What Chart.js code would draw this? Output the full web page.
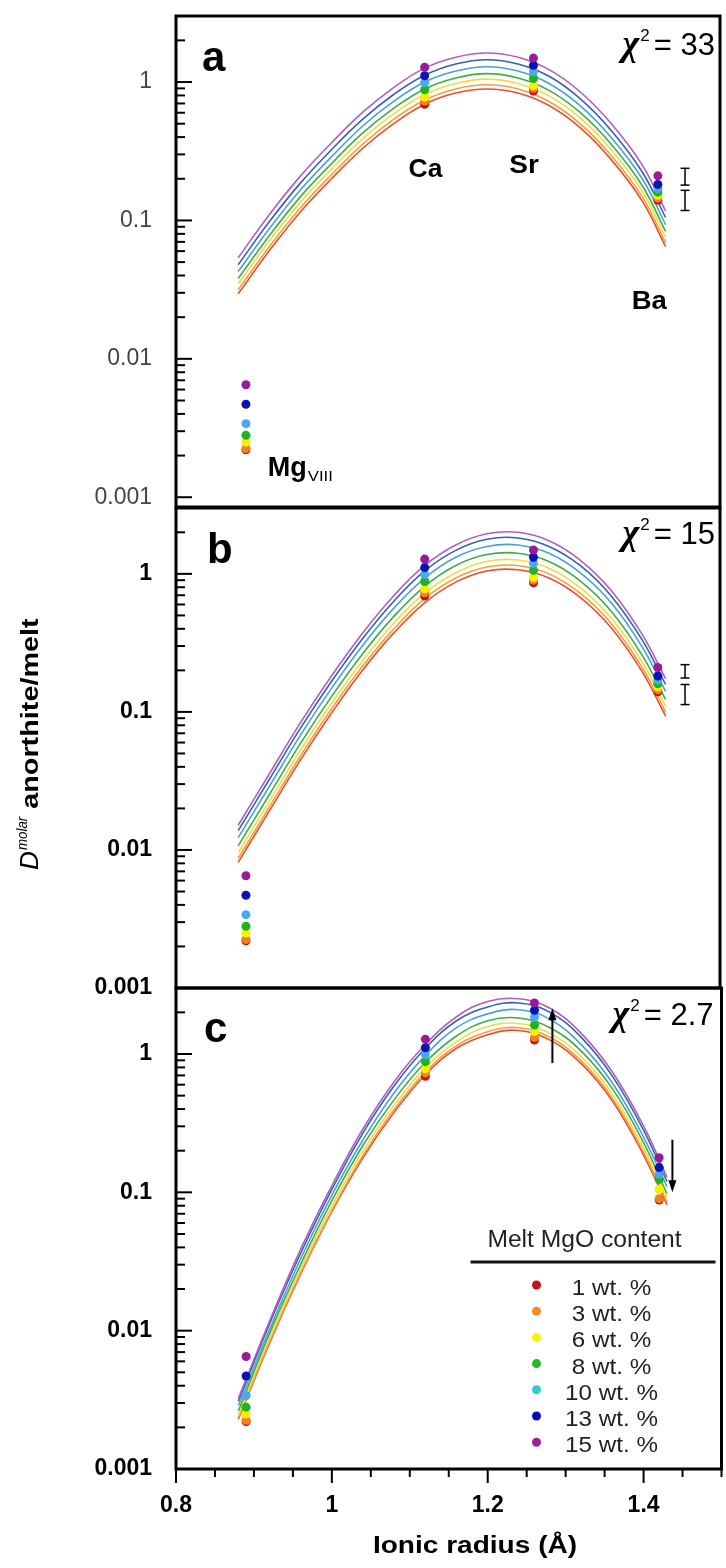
<!DOCTYPE html>
<html><head><meta charset="utf-8">
<script src="https://cdn.jsdelivr.net/npm/chart.js@4.4.1/dist/chart.umd.min.js"></script>
<style>
html,body{margin:0;padding:0;background:#fff;}
body{width:726px;height:1568px;position:relative;overflow:hidden;}
canvas{position:absolute;left:0;}
</style></head><body>
<canvas id="pa" width="726" height="530" style="top:0px"></canvas>
<canvas id="pb" width="726" height="540" style="top:480px"></canvas>
<canvas id="pc" width="726" height="608" style="top:960px"></canvas>
<script>
// ---------------- data ----------------
const mgoLabels = ['1 wt. %','3 wt. %','6 wt. %','8 wt. %','10 wt. %','13 wt. %','15 wt. %'];
const elements  = ['Mg','Ca','Sr','Ba'];
const radii     = [0.89, 1.12, 1.26, 1.42];

// measured D (molar) per MgO content (1,3,6,8,10,13,15 wt.%)
const dMg  = [0.0022, 0.00225, 0.0025, 0.0028, 0.0034, 0.0047, 0.0065];
const dCa  = [0.69, 0.73, 0.78, 0.88, 0.99, 1.11, 1.28];
const dSr  = [0.86, 0.90, 0.94, 1.06, 1.19, 1.32, 1.49];
const dBa  = [0.14, 0.145, 0.152, 0.16, 0.17, 0.182, 0.21];
const dSrC = [1.26, 1.32, 1.45, 1.62, 1.85, 2.07, 2.34];
const dBaC = [0.088, 0.09, 0.105, 0.124, 0.135, 0.151, 0.178];

// fitted lattice-strain curves, read along the radius axis
const fitX = [0.88,0.92,0.96,1.00,1.04,1.08,1.12,1.16,1.20,1.24,1.28,1.32,1.36,1.40,1.43];
const fitA = [
  [0.0295,0.0603,0.115,0.200,0.331,0.501,0.692,0.832,0.891,0.832,0.676,0.468,0.275,0.138,0.0646],
  [0.0316,0.0646,0.123,0.214,0.355,0.537,0.741,0.891,0.955,0.891,0.724,0.501,0.295,0.148,0.0692],
  [0.0347,0.0708,0.135,0.234,0.389,0.589,0.813,0.977,1.05,0.977,0.794,0.550,0.324,0.162,0.0759],
  [0.0380,0.0776,0.148,0.257,0.427,0.646,0.891,1.07,1.15,1.07,0.871,0.603,0.355,0.178,0.0832],
  [0.0427,0.0871,0.166,0.288,0.479,0.724,1.00,1.20,1.29,1.20,0.977,0.676,0.398,0.200,0.0933],
  [0.0479,0.0977,0.186,0.324,0.537,0.813,1.12,1.35,1.45,1.35,1.10,0.759,0.447,0.224,0.105],
  [0.0537,0.110,0.209,0.363,0.603,0.912,1.26,1.51,1.62,1.51,1.23,0.851,0.501,0.251,0.117]
];
const fitB = [
  [0.00813,0.0191,0.0447,0.0977,0.200,0.372,0.617,0.871,1.05,1.07,0.933,0.676,0.407,0.195,0.0933],
  [0.00871,0.0204,0.0479,0.105,0.214,0.398,0.661,0.933,1.12,1.15,1.00,0.724,0.437,0.209,0.100],
  [0.00955,0.0224,0.0525,0.115,0.234,0.437,0.724,1.02,1.23,1.26,1.10,0.794,0.479,0.229,0.110],
  [0.0107,0.0251,0.0589,0.129,0.263,0.490,0.813,1.15,1.38,1.41,1.23,0.891,0.537,0.257,0.123],
  [0.0123,0.0288,0.0676,0.148,0.302,0.562,0.933,1.32,1.58,1.62,1.41,1.02,0.617,0.295,0.141],
  [0.0138,0.0324,0.0759,0.166,0.339,0.631,1.05,1.48,1.78,1.82,1.58,1.15,0.692,0.331,0.158],
  [0.0151,0.0355,0.0832,0.182,0.372,0.692,1.15,1.62,1.95,2.00,1.74,1.26,0.759,0.363,0.174]
];
const fitC = [
  [0.00229,0.00813,0.0257,0.0724,0.178,0.380,0.708,1.10,1.38,1.48,1.26,0.851,0.457,0.186,0.0813],
  [0.00234,0.00832,0.0263,0.0741,0.186,0.398,0.741,1.15,1.45,1.55,1.32,0.891,0.479,0.195,0.0851],
  [0.00245,0.00891,0.0282,0.0794,0.200,0.427,0.794,1.23,1.58,1.66,1.41,0.955,0.513,0.209,0.0912],
  [0.00263,0.00955,0.0302,0.0871,0.219,0.468,0.871,1.35,1.74,1.82,1.55,1.05,0.562,0.229,0.0977],
  [0.00288,0.0102,0.0331,0.0955,0.240,0.525,0.977,1.55,1.95,2.09,1.78,1.17,0.617,0.251,0.110],
  [0.00309,0.0112,0.0363,0.105,0.269,0.589,1.10,1.74,2.19,2.34,2.00,1.32,0.692,0.282,0.120],
  [0.00324,0.0117,0.0389,0.112,0.288,0.631,1.17,1.86,2.40,2.51,2.14,1.41,0.741,0.302,0.129]
];

// uncertainty bars (panels a, b) and shift arrows (panel c)
const errBarX = 1.455;
const errA = [[0.18, 0.238], [0.118, 0.165]];
const errB = [[0.176, 0.22], [0.113, 0.158]];
const arrowX    = [1.283, 1.437];
const arrowFrom = [0.86, 0.24];
const arrowTo   = [2.14, 0.10];

const chiA = '33', chiB = '15', chiC = '2.7';

// axis ticks
const yMajor      = [0.001, 0.01, 0.1, 1];
const yTickLabels = ['0.001', '0.01', '0.1', '1'];
const yMinorSteps = [2, 3, 4, 5, 6, 7, 8, 9];
const xTickValues = [0.8, 1.0, 1.2, 1.4];
const xTickLabels = ['0.8', '1', '1.2', '1.4'];

// ---------------- styles ----------------
const FONT = "'Liberation Sans', Arial, sans-serif";
const lineColors   = ['#e8502e','#f0a040','#efdc44','#3cae48','#4aa0d8','#3462b0','#b45cc4'];
const dotColors    = ['#c81414','#f08220','#f8f000','#1eb41e','#4ca8ec','#0a14b4','#9a1a9a'];
const legendColors = ['#cc1111','#f08a2a','#f5f500','#22bb22','#33cccc','#0a0ab4','#9a2299'];

function sText(ctx, s, x, y, font, align, sx, color) {
  ctx.save();
  ctx.font = font;
  ctx.fillStyle = color || '#000';
  ctx.textAlign = 'left';
  ctx.textBaseline = 'alphabetic';
  const w = ctx.measureText(s).width * sx;
  const x0 = align === 'center' ? x - w / 2 : (align === 'right' ? x - w : x);
  ctx.translate(x0, y);
  ctx.scale(sx, 1);
  ctx.fillText(s, 0, 0);
  ctx.restore();
  return w;
}
function drawFrame(chart) {
  const {ctx, chartArea: a} = chart;
  ctx.save();
  ctx.strokeStyle = '#000'; ctx.lineWidth = 3;
  ctx.strokeRect(a.left, a.top, a.right - a.left, a.bottom - a.top);
  ctx.restore();
}
function drawYTicks(chart) {
  const {ctx, chartArea: a} = chart, ys = chart.scales.y;
  ctx.save(); ctx.strokeStyle = '#000'; ctx.lineWidth = 2;
  ys.ticks.forEach(t => {
    const p = ys.getPixelForValue(t.value);
    if (p < a.top + 2 || p > a.bottom - 2) return;
    const len = yMajor.includes(t.value) ? 16 : 9;
    ctx.beginPath(); ctx.moveTo(a.left, p); ctx.lineTo(a.left + len, p); ctx.stroke();
  });
  ctx.restore();
}
function drawXTicks(chart) {
  const {ctx, chartArea: a} = chart, xs = chart.scales.x;
  ctx.save(); ctx.strokeStyle = '#000'; ctx.lineWidth = 2;
  xs.ticks.forEach(t => {
    const p = xs.getPixelForValue(t.value);
    const major = xTickValues.some(v => Math.abs(v - t.value) < 1e-6);
    ctx.beginPath(); ctx.moveTo(p, a.bottom); ctx.lineTo(p, a.bottom + (major ? 14 : 8)); ctx.stroke();
  });
  ctx.restore();
}
function drawChi(ctx, val, R, B) {
  const w1 = sText(ctx, '= ' + val, R, B, `31px ${FONT}`, 'right', 1, '#000');
  const w2 = sText(ctx, '2', R - w1 - 4, B - 14, `17px ${FONT}`, 'right', 1, '#000');
  sText(ctx, 'χ', R - w1 - 4 - w2 - 1, B, `bold italic 36px 'Liberation Serif', serif`, 'right', 1, '#000');
}
function logTicks(min, max) {
  const out = [];
  yMajor.forEach(m => { out.push(m); yMinorSteps.forEach(k => out.push(+(m * k).toPrecision(3))); });
  return out.filter(v => v >= min && v <= max).sort((p, q) => p - q)
            .map(v => ({value: v, major: yMajor.includes(v)}));
}

function buildDatasets(fit, sr, ba, errs) {
  const ds = [];
  fit.forEach((row, i) => ds.push({
    label: 'fit ' + mgoLabels[i],
    data: fitX.map((x, j) => ({x, y: row[j]})),
    showLine: true, borderColor: lineColors[i], borderWidth: 1.6,
    pointRadius: 0, tension: 0.4, fill: false, order: 40 - i
  }));
  mgoLabels.forEach((lab, i) => ds.push({
    label: lab,
    data: [{x: radii[0], y: dMg[i]}, {x: radii[1], y: dCa[i]}, {x: radii[2], y: sr[i]}, {x: radii[3], y: ba[i]}],
    showLine: false, pointRadius: 4.5, pointHoverRadius: 4.5,
    pointBackgroundColor: dotColors[i], pointBorderColor: dotColors[i], pointBorderWidth: 0,
    order: 20 - i
  }));
  (errs || []).forEach(e => ds.push({
    label: 'error',
    data: [{x: errBarX, y: e[0]}, {x: errBarX, y: e[1]}],
    showLine: true, borderColor: '#000', borderWidth: 1.5,
    pointStyle: 'line', pointRadius: 4.5, pointBorderColor: '#000', pointBorderWidth: 1.5,
    order: 1
  }));
  return ds;
}

function makeChart(id, datasets, yMin, labelFont, labelColor, showX, padding, plugin) {
  const xScale = showX ? {
    type: 'linear', min: 0.8, max: 1.5,
    grid: {display: false, drawTicks: false}, border: {display: false},
    afterFit(s) { s.height = 99; s.paddingLeft = 0; s.paddingRight = 0; },
    ticks: {
      stepSize: 0.05, autoSkip: false, maxRotation: 0, padding: 23, color: '#000',
      font: {family: FONT, size: 23, weight: 'bold'},
      callback: (v) => { const i = xTickValues.findIndex(t => Math.abs(t - v) < 1e-6); return i >= 0 ? xTickLabels[i] : ''; }
    }
  } : {type: 'linear', min: 0.8, max: 1.5, display: false};
  return new Chart(document.getElementById(id), {
    type: 'scatter',
    data: {datasets},
    options: {
      responsive: false, animation: false, devicePixelRatio: 1, events: [],
      layout: {padding},
      plugins: {legend: {display: false}, tooltip: {enabled: false}},
      scales: {
        x: xScale,
        y: {
          type: 'logarithmic', min: yMin, max: 3,
          afterFit(s) { s.width = 176; s.paddingTop = 0; s.paddingBottom = 0; },
          afterBuildTicks(s) { s.ticks = logTicks(yMin, 3); },
          grid: {display: false, drawTicks: false}, border: {display: false},
          ticks: {
            padding: 24, autoSkip: false, color: labelColor, font: labelFont,
            callback: (v) => { const i = yMajor.indexOf(v); return i >= 0 ? yTickLabels[i] : ''; }
          }
        }
      }
    },
    plugins: [plugin]
  });
}

// ---------------- panel a ----------------
const decorA = {id: 'decorA', afterDraw(chart) {
  const {ctx, chartArea: a, scales: {x, y}} = chart;
  drawYTicks(chart); drawFrame(chart);
  sText(ctx, 'a', a.left + 26, a.top + 55, `bold 42px ${FONT}`, 'left', 1, '#000');
  drawChi(ctx, chiA, a.right - 5, a.top + 39);
  const bold = `bold 25px ${FONT}`;
  sText(ctx, 'Ca', x.getPixelForValue(1.121), y.getPixelForValue(0.205), bold, 'center', 1.06, '#000');
  sText(ctx, 'Sr', x.getPixelForValue(1.248), y.getPixelForValue(0.219), bold, 'center', 1.12, '#000');
  sText(ctx, 'Ba', x.getPixelForValue(1.409), y.getPixelForValue(0.0230), bold, 'center', 1.1, '#000');
  const mx = x.getPixelForValue(0.918), my = y.getPixelForValue(0.00142);
  const w = sText(ctx, 'Mg', mx, my, `bold 27px ${FONT}`, 'left', 1, '#000');
  sText(ctx, 'VIII', mx + w + 1, my + 5, `14px ${FONT}`, 'left', 1.2, '#000');
}};
makeChart('pa', buildDatasets(fitA, dSr, dBa, errA), 0.00085,
  {family: FONT, size: 23, weight: 'normal'}, '#444', false,
  {top: 16, right: 3, bottom: 23, left: 0}, decorA);

// ---------------- panel b ----------------
const decorB = {id: 'decorB', afterDraw(chart) {
  const {ctx, chartArea: a} = chart;
  drawYTicks(chart); drawFrame(chart);
  sText(ctx, 'b', a.left + 31, a.top + 55, `bold 42px ${FONT}`, 'left', 1, '#000');
  drawChi(ctx, chiB, a.right - 5, a.top + 36);
  // y-axis title (spans the whole figure)
  ctx.save();
  ctx.translate(a.left - 138, a.top + 362);
  ctx.rotate(-Math.PI / 2);
  let cx = 0;
  cx += sText(ctx, 'D', cx, 0, `italic 25px ${FONT}`, 'left', 1.05, '#000');
  cx += sText(ctx, 'molar', cx + 1, -11, `italic 14px ${FONT}`, 'left', 0.95, '#000') + 1;
  sText(ctx, ' anorthite/melt', cx, 0, `bold 24px ${FONT}`, 'left', 1.2, '#000');
  ctx.restore();
}};
makeChart('pb', buildDatasets(fitB, dSr, dBa, errB), 0.001,
  {family: FONT, size: 23, weight: 'bold'}, '#000', false,
  {top: 28, right: 3, bottom: 32, left: 0}, decorB);

// ---------------- panel c ----------------
const decorC = {id: 'decorC', afterDraw(chart) {
  const {ctx, chartArea: a, scales: {x, y}} = chart;
  drawYTicks(chart); drawXTicks(chart); drawFrame(chart);
  sText(ctx, 'c', a.left + 28, a.top + 54, `bold 42px ${FONT}`, 'left', 1, '#000');
  drawChi(ctx, chiC, a.right - 8, a.top + 37);
  // arrows
  ctx.save();
  ctx.strokeStyle = '#000'; ctx.fillStyle = '#000'; ctx.lineWidth = 2;
  arrowX.forEach((ax, i) => {
    const px = x.getPixelForValue(ax), p1 = y.getPixelForValue(arrowFrom[i]), p2 = y.getPixelForValue(arrowTo[i]);
    const dir = p2 < p1 ? -1 : 1;
    ctx.beginPath(); ctx.moveTo(px, p1); ctx.lineTo(px, p2 - dir * 6); ctx.stroke();
    ctx.beginPath(); ctx.moveTo(px, p2); ctx.lineTo(px - 4, p2 - dir * 12); ctx.lineTo(px + 4, p2 - dir * 12); ctx.closePath(); ctx.fill();
  });
  ctx.restore();
  // legend
  const R = a.right, B = a.bottom;
  sText(ctx, 'Melt MgO content', R - 137, B - 222, `23px ${FONT}`, 'center', 1.07, '#222');
  ctx.save(); ctx.strokeStyle = '#111'; ctx.lineWidth = 3;
  ctx.beginPath(); ctx.moveTo(R - 251, B - 207); ctx.lineTo(R - 6, B - 207); ctx.stroke(); ctx.restore();
  mgoLabels.forEach((lab, i) => {
    const yc = B - 184 + i * 26.2;
    ctx.save(); ctx.fillStyle = legendColors[i];
    ctx.beginPath(); ctx.arc(R - 185, yc, 4.5, 0, Math.PI * 2); ctx.fill(); ctx.restore();
    sText(ctx, lab, R - 110, yc + 10, `22px ${FONT}`, 'center', 1.1, '#222');
  });
  // x-axis title
  sText(ctx, 'Ionic radius (Å)', a.left + 299, a.bottom + 84, `bold 23px ${FONT}`, 'center', 1.22, '#000');
}};
makeChart('pc', buildDatasets(fitC, dSrC, dBaC, null), 0.001,
  {family: FONT, size: 23, weight: 'bold'}, '#000', true,
  {top: 28, right: 3, bottom: 0, left: 0}, decorC);
</script>
</body></html>
